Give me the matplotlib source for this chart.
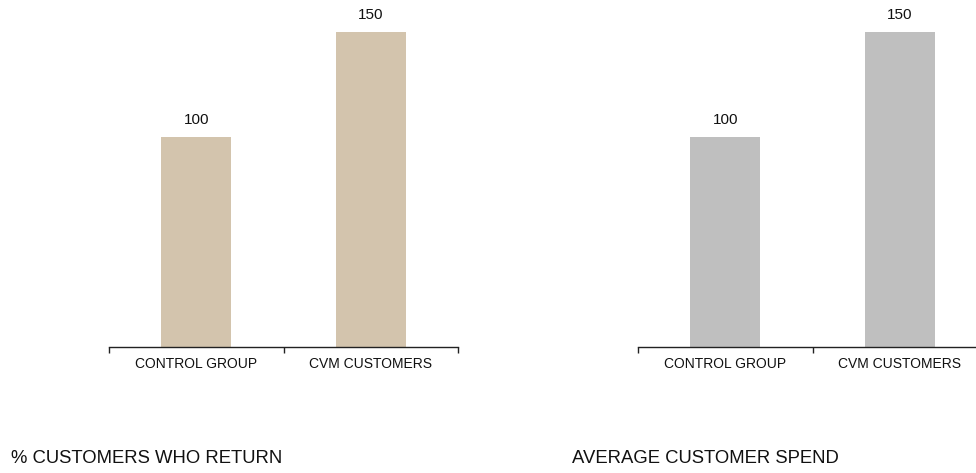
import matplotlib
matplotlib.use('Agg')
import matplotlib.pyplot as plt

plt.rcParams['font.family'] = ['Liberation Sans', 'DejaVu Sans']

# chart data
categories = ["CONTROL GROUP", "CVM CUSTOMERS"]
returnValues = [100, 150]
spendValues = [100, 150]
panelTitles = ["% CUSTOMERS WHO RETURN", "AVERAGE CUSTOMER SPEND"]

W, H = 976, 473
fig = plt.figure(figsize=(W / 100, H / 100), dpi=100)


def addPanel(left, values, color):
	# axes placed in pixel units, baseline at y=347
	ax = fig.add_axes([left / W, (H - 347) / H, 349 / W, 336 / H])
	xs = list(range(len(values)))
	bars = ax.bar(xs, values, width=0.4, color=color, zorder=2)
	for bar, v in zip(bars, values):
		ax.annotate(str(v), (bar.get_x() + bar.get_width() / 2, v),
			xytext=(0, 7), textcoords='offset points',
			ha='center', va='bottom', fontsize=11, color='#111111')
	ax.set_xlim(-0.5, len(values) - 0.5)
	ax.set_ylim(0, 160)
	for side in ['top', 'right', 'left']:
		ax.spines[side].set_visible(False)
	ax.spines['bottom'].set_linewidth(1.0)
	ax.spines['bottom'].set_color('#222222')
	ax.set_yticks([])
	ax.set_xticks([i - 0.5 for i in range(len(values) + 1)])
	ax.set_xticklabels([])
	ax.tick_params(axis='x', which='major', direction='out', length=4, width=1, color='#222222')
	ax.set_xticks(xs, minor=True)
	ax.set_xticklabels(categories, minor=True, fontsize=10, color='#111111')
	ax.tick_params(axis='x', which='minor', length=0, pad=7)
	ax.patch.set_visible(False)
	return ax


addPanel(109, returnValues, '#D3C4AD')
addPanel(638, spendValues, '#BFBFBF')

fig.text(11 / W, 1 - 458 / H, panelTitles[0], fontsize=13.3, va='center', ha='left', color='#111111')
fig.text(572 / W, 1 - 458 / H, panelTitles[1], fontsize=13.3, va='center', ha='left', color='#111111')

fig.savefig('out.png', dpi=100)
